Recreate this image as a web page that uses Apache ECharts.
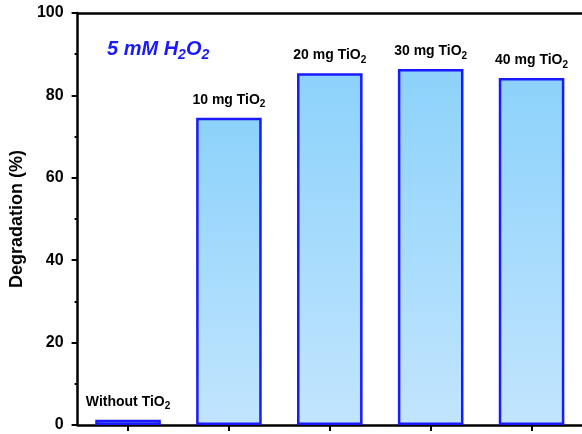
<!DOCTYPE html>
<html><head><meta charset="utf-8">
<script src="https://cdn.jsdelivr.net/npm/echarts@6/dist/echarts.min.js"></script>
<style>html,body{margin:0;padding:0;background:#fff}#c{width:582px;height:434px}</style>
</head><body><div id="c"></div>
<script>
const categories = ['Without TiO2','10 mg TiO2','20 mg TiO2','30 mg TiO2','40 mg TiO2'];
const labelMain = ['Without TiO','10 mg TiO','20 mg TiO','30 mg TiO','40 mg TiO'];
const degradation = [1.3, 74.6, 85.4, 86.4, 84.2];
const yTicks = [0, 20, 40, 60, 80, 100];

const F = 'Liberation Sans, Arial, sans-serif';
const chart = echarts.init(document.getElementById('c'));
chart.setOption({
  animation: false,
  title: {
    text: '{t|5 mM H}{s|2}{t|O}{s|2}',
    left: 102, top: 31,
    textStyle: {
      rich: {
        t: {fontFamily: F, fontSize: 20, lineHeight: 26, fontWeight: 'bold', fontStyle: 'italic', color: '#1a1aff'},
        s: {fontFamily: F, fontSize: 14, lineHeight: 14, verticalAlign: 'bottom', fontWeight: 'bold', fontStyle: 'italic', color: '#1a1aff'}
      }
    }
  },
  grid: {left: 77, top: 13, width: 512, height: 412, containLabel: false},
  xAxis: [{
    type: 'category', data: categories,
    axisLine: {lineStyle: {color: '#000', width: 2.5}},
    axisTick: {show: true, alignWithLabel: true, length: 6, lineStyle: {color: '#000', width: 2}},
    axisLabel: {show: false}
  }, {
    type: 'category', data: categories, position: 'top',
    axisLine: {lineStyle: {color: '#000', width: 2.5}},
    axisTick: {show: false}, axisLabel: {show: false}
  }],
  yAxis: {
    type: 'value', min: 0, max: 100, interval: 20,
    name: 'Degradation (%)', nameLocation: 'middle', nameGap: 46,
    nameTextStyle: {fontFamily: F, fontSize: 18, fontWeight: 'bold', color: '#000'},
    axisLine: {show: true, lineStyle: {color: '#000', width: 2.5}},
    axisTick: {show: true, length: 6, lineStyle: {color: '#000', width: 2}},
    minorTick: {show: true, splitNumber: 2, length: 3, lineStyle: {color: '#000', width: 2}},
    axisLabel: {fontFamily: F, fontSize: 16, fontWeight: 'bold', color: '#000', margin: 14,
      formatter: v => yTicks.includes(v) ? String(v) : ''},
    splitLine: {show: false}
  },
  series: [{
    type: 'bar', data: degradation, barCategoryGap: '35%',
    itemStyle: {
      borderColor: '#1a1aff', borderWidth: 2.5,
      color: new echarts.graphic.LinearGradient(0, 0, 0, 1, [
        {offset: 0, color: '#8cd2fb'}, {offset: 1, color: '#c2e5fe'}
      ])
    },
    label: {
      show: true, position: 'top', distance: 8,
      formatter: p => '{m|' + labelMain[p.dataIndex] + '}{s|2}',
      rich: {
        m: {fontFamily: F, fontSize: 14, lineHeight: 20, fontWeight: 'bold', color: '#000'},
        s: {fontFamily: F, fontSize: 10, lineHeight: 10, verticalAlign: 'bottom', fontWeight: 'bold', color: '#000'}
      }
    }
  }]
});
</script></body></html>
